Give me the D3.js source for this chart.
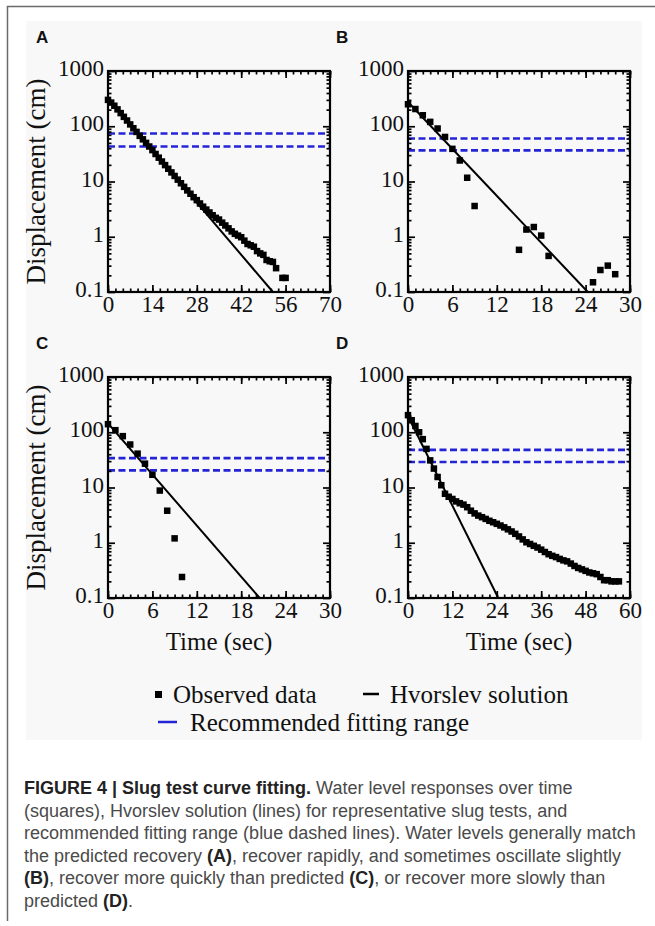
<!DOCTYPE html>
<html>
<head>
<meta charset="utf-8">
<script src="https://cdnjs.cloudflare.com/ajax/libs/d3/7.8.5/d3.min.js"></script>
<style>
	body { margin: 0; background: #fff; }
	svg { display: block; }
</style>
</head>
<body>
<div id="chart"></div>
<script>
/* global d3 */

// ---- data ----
var panelNames = ['A', 'B', 'C', 'D'];
var xMaxes     = [70, 30, 30, 60];
var xSteps     = [14, 6, 6, 12];
var yTicks     = [0.1, 1, 10, 100, 1000];
var yTickText  = ['0.1', '1', '10', '100', '1000'];

var timeA = [0, 1, 2, 3, 4, 5, 6, 7, 8, 9, 10, 11, 12, 13, 14, 15, 16, 17, 18, 19, 20, 21, 22, 23, 24, 25, 26, 27, 28, 29,
	30, 31, 32, 33, 34, 35, 36, 37, 38, 39, 40, 41, 42, 43, 44, 45, 46, 47, 48, 49, 50, 51, 52, 53, 55, 56];
var dispA = [300, 268, 235, 202, 173, 148, 127, 108, 92, 79, 67, 58, 50, 43, 37, 31.5, 27, 23, 19.8, 17, 14.6, 12.6, 10.8, 9.3,
	8.0, 6.9, 6.0, 5.2, 4.6, 4.0, 3.5, 3.1, 2.75, 2.45, 2.2, 2.05, 1.8, 1.6, 1.42, 1.25, 1.13, 1.05, 0.98, 0.85, 0.74, 0.7,
	0.66, 0.55, 0.5, 0.47, 0.38, 0.36, 0.35, 0.27, 0.18, 0.18];

var timeB = [0, 1, 2, 3, 4, 5, 6, 7, 8, 9, 15, 16, 17, 18, 19, 25, 26, 27, 28];
var dispB = [250, 205, 158, 120, 91, 64, 39, 24, 11.7, 3.6, 0.58, 1.35, 1.5, 1.05, 0.45, 0.15, 0.25, 0.3, 0.21];

var timeC = [0, 1, 2, 3, 4, 5, 6, 7, 8, 9, 10];
var dispC = [140, 109, 85, 60, 41, 27, 17, 8.8, 3.8, 1.2, 0.24];

var timeD = [0, 1, 2, 3, 4, 5, 6, 7, 8, 9, 10, 11, 12, 13, 14, 15, 16, 17, 18, 19, 20, 21, 22, 23, 24, 25, 26, 27, 28, 29,
	30, 31, 32, 33, 34, 35, 36, 37, 38, 39, 40, 41, 42, 43, 44, 45, 46, 47, 48, 49, 50, 51, 52, 53, 54, 55, 56, 57];
var dispD = [204, 165, 130, 100, 75, 50, 31, 22, 15.5, 11, 7.7, 6.8, 6.2, 5.6, 5.2, 4.9, 4.4, 3.8, 3.4, 3.1, 2.9, 2.7, 2.5,
	2.35, 2.2, 2.05, 1.9, 1.75, 1.6, 1.45, 1.3, 1.15, 1.02, 0.95, 0.88, 0.82, 0.75, 0.68, 0.62, 0.58, 0.55, 0.51, 0.48,
	0.46, 0.42, 0.38, 0.35, 0.33, 0.31, 0.29, 0.28, 0.27, 0.24, 0.21, 0.21, 0.2, 0.2, 0.2];

// Hvorslev solution: [time, displacement] end points
var hvorslevA = [[0, 320], [52, 0.1]];
var hvorslevB = [[0, 275], [24.3, 0.1]];
var hvorslevC = [[0, 145], [20.5, 0.1]];
var hvorslevD = [[0, 195], [24.4, 0.1]];

// recommended fitting range (cm)
var rangeA = [43, 74];
var rangeB = [36.6, 60];
var rangeC = [20.4, 34];
var rangeD = [29, 48];

var legendText  = ['Observed data', 'Hvorslev solution', 'Recommended fitting range'];
var captionRuns = [
	[['FIGURE 4 | Slug test curve fitting.', 1], [' Water level responses over time', 0]],
	[['(squares), Hvorslev solution (lines) for representative slug tests, and', 0]],
	[['recommended fitting range (blue dashed lines). Water levels generally match', 0]],
	[['the predicted recovery ', 0], ['(A)', 1], [', recover rapidly, and sometimes oscillate slightly', 0]],
	[['(B)', 1], [', recover more quickly than predicted ', 0], ['(C)', 1], [', or recover more slowly than', 0]],
	[['predicted ', 0], ['(D)', 1], ['.', 0]]
];

var buildFigure = function (el) {
	'use strict';

	var serif = '"Liberation Serif", "Times New Roman", serif';
	var sans  = '"Liberation Sans", Arial, sans-serif';

	function Panel (svg, opts) {
		this.opts   = opts;
		this.g      = svg.append('g').attr('transform', 'translate(' + opts.x + ',' + opts.y + ')');
		this.scales = this.setScales();

		this.addRange();
		this.addHvorslev();
		this.addObserved();
		this.addAxes();
		this.addLabel();
	}

	Panel.prototype = {
		width: 222,
		height: 221,

		setScales: function () {
			return {
				x: d3.scaleLinear().domain([0, this.opts.xMax]).range([0, this.width]),
				y: d3.scaleLog().domain([0.1, 1000]).range([this.height, 0])
			};
		},

		addRange: function () {
			var that = this;
			this.g.selectAll('.range')
				.data(this.opts.range)
				.enter().append('line')
					.attr('class', 'range')
					.attr('x1', 0)
					.attr('x2', this.width)
					.attr('y1', function (d) { return that.scales.y(d); })
					.attr('y2', function (d) { return that.scales.y(d); })
					.attr('stroke', '#2424d6')
					.attr('stroke-width', 2.6)
					.attr('stroke-dasharray', '7,3.5');
		},

		addHvorslev: function () {
			var that = this;
			var line = d3.line()
				.x(function (d) { return that.scales.x(d[0]); })
				.y(function (d) { return that.scales.y(d[1]); });
			this.g.append('path')
				.attr('d', line(this.opts.hvorslev))
				.attr('fill', 'none')
				.attr('stroke', '#000')
				.attr('stroke-width', 2);
		},

		addObserved: function () {
			var that = this;
			var s = 6.5;
			this.g.selectAll('.obs')
				.data(this.opts.time)
				.enter().append('rect')
					.attr('class', 'obs')
					.attr('x', function (d) { return that.scales.x(d) - s / 2; })
					.attr('y', function (d, i) { return that.scales.y(that.opts.disp[i]) - s / 2; })
					.attr('width', s)
					.attr('height', s)
					.attr('fill', '#000');
		},

		addAxes: function () {
			var x = this.scales.x, y = this.scales.y;
			var step = this.opts.xStep, xMax = this.opts.xMax;
			var major = d3.range(0, xMax + 1e-6, step);
			var minor = d3.range(0, xMax + 1e-6, step / 6);
			var yMinor = [];
			[0.1, 1, 10, 100].forEach(function (p) {
				for (var k = 2; k < 10; k++) { yMinor.push(p * k); }
			});
			var h = this.height, w = this.width;
			var g = this.g;

			function tickGroup (axis, tx, ty) {
				var a = g.append('g')
					.attr('transform', 'translate(' + tx + ',' + ty + ')')
					.call(axis);
				a.select('.domain').remove();
				a.selectAll('.tick line').attr('stroke-width', 1.7);
				return a;
			}

			// minor ticks
			tickGroup(d3.axisBottom(x).tickValues(minor).tickSize(-3.5).tickFormat(''), 0, h);
			tickGroup(d3.axisTop(x).tickValues(minor).tickSize(-3.5).tickFormat(''), 0, 0);
			tickGroup(d3.axisLeft(y).tickValues(yMinor).tickSize(-3.5).tickFormat(''), 0, 0);
			tickGroup(d3.axisRight(y).tickValues(yMinor).tickSize(-3.5).tickFormat(''), w, 0);

			// major ticks with labels
			var xb = tickGroup(d3.axisBottom(x).tickValues(major).tickSize(-7).tickPadding(4)
				.tickFormat(d3.format('d')), 0, h);
			tickGroup(d3.axisTop(x).tickValues(major).tickSize(-7).tickFormat(''), 0, 0);
			var yl = tickGroup(d3.axisLeft(y).tickValues(yTicks).tickSize(-7).tickPadding(4)
				.tickFormat(function (d, i) { return yTickText[i]; }), 0, 0);
			tickGroup(d3.axisRight(y).tickValues(yTicks).tickSize(-7).tickFormat(''), w, 0);

			[xb, yl].forEach(function (a) {
				a.attr('font-family', serif).attr('font-size', 23);
				a.selectAll('text').attr('fill', '#111');
			});
			yl.selectAll('text').attr('dy', '0.2em');

			g.append('rect')
				.attr('width', w)
				.attr('height', h)
				.attr('fill', 'none')
				.attr('stroke', '#000')
				.attr('stroke-width', 2.2);

			if (this.opts.yTitle) {
				g.append('text')
					.attr('transform', 'translate(-63,' + (h / 2) + ') rotate(-90)')
					.attr('text-anchor', 'middle')
					.attr('font-family', serif)
					.attr('font-size', 27)
					.attr('fill', '#111')
					.text('Displacement (cm)');
			}
			if (this.opts.xTitle) {
				g.append('text')
					.attr('x', w / 2)
					.attr('y', h + 52)
					.attr('text-anchor', 'middle')
					.attr('font-family', serif)
					.attr('font-size', 25)
					.attr('fill', '#111')
					.text('Time (sec)');
			}
		},

		addLabel: function () {
			this.g.append('text')
				.attr('x', this.opts.labelX)
				.attr('y', -28)
				.attr('font-family', sans)
				.attr('font-weight', 'bold')
				.attr('font-size', 17)
				.attr('fill', '#111')
				.text(this.opts.name);
		}
	};

	var svg = d3.select(el).append('svg')
		.attr('width', 655)
		.attr('height', 926);

	// figure box and image background
	svg.append('path')
		.attr('d', 'M655,6.5H7.5V921')
		.attr('fill', 'none')
		.attr('stroke', '#6a6a6a')
		.attr('stroke-width', 1.5);
	svg.append('rect')
		.attr('x', 26).attr('y', 21)
		.attr('width', 616).attr('height', 719)
		.attr('fill', '#f8f8f8');

	var layout = [
		{x: 108, y: 71,  labelX: -72, yTitle: true,  xTitle: false},
		{x: 408, y: 71,  labelX: -72, yTitle: false, xTitle: false},
		{x: 108, y: 377, labelX: -72, yTitle: true,  xTitle: true},
		{x: 408, y: 377, labelX: -72, yTitle: false, xTitle: true}
	];
	var times = [timeA, timeB, timeC, timeD];
	var disps = [dispA, dispB, dispC, dispD];
	var lines = [hvorslevA, hvorslevB, hvorslevC, hvorslevD];
	var ranges = [rangeA, rangeB, rangeC, rangeD];

	layout.forEach(function (p, i) {
		return new Panel(svg, {
			x: p.x, y: p.y, labelX: p.labelX, yTitle: p.yTitle, xTitle: p.xTitle,
			name: panelNames[i], xMax: xMaxes[i], xStep: xSteps[i],
			time: times[i], disp: disps[i], hvorslev: lines[i], range: ranges[i]
		});
	});

	// legend
	var legend = svg.append('g')
		.attr('font-family', serif)
		.attr('font-size', 25)
		.attr('fill', '#111');
	legend.append('rect').attr('x', 155).attr('y', 691).attr('width', 7).attr('height', 7).attr('fill', '#000');
	legend.append('text').attr('x', 173).attr('y', 703).text(legendText[0]);
	legend.append('line').attr('x1', 363).attr('x2', 379).attr('y1', 694).attr('y2', 694)
		.attr('stroke', '#000').attr('stroke-width', 2.5);
	legend.append('text').attr('x', 390).attr('y', 703).text(legendText[1]);
	legend.append('line').attr('x1', 158).attr('x2', 177).attr('y1', 722).attr('y2', 722)
		.attr('stroke', '#2424d6').attr('stroke-width', 2.5);
	legend.append('text').attr('x', 190).attr('y', 731).text(legendText[2]);

	// caption
	var caption = svg.append('text')
		.attr('font-family', sans)
		.attr('font-size', 18)
		.attr('fill', '#333');
	captionRuns.forEach(function (runs, li) {
		runs.forEach(function (r, ri) {
			var t = caption.append('tspan')
				.attr('font-weight', r[1] ? 'bold' : 'normal')
				.attr('fill', r[1] ? '#222' : '#4a4a4a')
				.text(r[0]);
			if (ri === 0) { t.attr('x', 24).attr('y', 794 + li * 22.5); }
		});
	});
};

buildFigure('#chart');
</script>
</body>
</html>
